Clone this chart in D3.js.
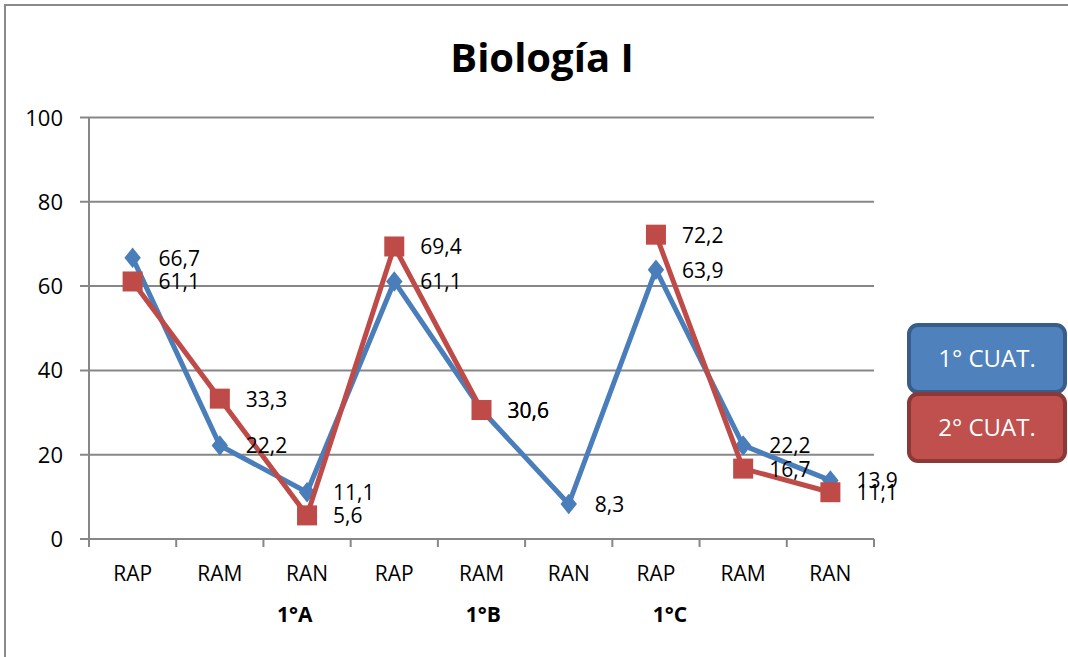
<!DOCTYPE html>
<html>
<head>
<meta charset="utf-8">
<script src="https://cdn.jsdelivr.net/npm/d3@7"></script>
<style>
  html, body { margin: 0; padding: 0; background: #fff; }
  svg { display: block; }
  text { font-family: "Open Sans", sans-serif; }
</style>
</head>
<body>
<svg id="chart" width="1068" height="657"></svg>
<script>
// ---- data ----
const categories = ["RAP", "RAM", "RAN", "RAP", "RAM", "RAN", "RAP", "RAM", "RAN"];
const groups = ["1°A", "1°B", "1°C"];
const groupLabelPos = [2.36, 4.52, 6.66]; // in category units, as drawn in the reference
const seriesNames = ["1° CUAT.", "2° CUAT."];
const cuat1 = [66.7, 22.2, 11.1, 61.1, 30.6, 8.3, 63.9, 22.2, 13.9];
const cuat2 = [61.1, 33.3, 5.6, 69.4, 30.6, null, 72.2, 16.7, 11.1];
const yTicks = [0, 20, 40, 60, 80, 100];
const chartTitle = "Biología I";

(function () {
// ---- layout ----
const svg = d3.select("#chart");
const pLeft = 89, pRight = 874, pTop = 117.5, pBottom = 539;
const x = d3.scaleBand().domain(d3.range(categories.length)).range([pLeft, pRight]).padding(0);
const y = d3.scaleLinear().domain([0, 100]).range([pBottom, pTop]);
const cx = i => x(i) + x.bandwidth() / 2;
const gridColor = "#878787";

// outer frame
svg.append("rect").attr("x", 5).attr("y", 5).attr("width", 1080).attr("height", 700)
  .attr("fill", "none").attr("stroke", "#8a8a8a").attr("stroke-width", 2);

// title
svg.append("text").attr("x", 542).attr("y", 72).attr("text-anchor", "middle")
  .attr("font-size", 40).attr("font-weight", "bold").attr("fill", "#000").text(chartTitle);

// gridlines + y ticks
const gy = svg.append("g");
yTicks.forEach(t => {
  gy.append("line").attr("x1", pLeft - 9).attr("x2", pRight)
    .attr("y1", y(t)).attr("y2", y(t)).attr("stroke", gridColor).attr("stroke-width", 2);
  gy.append("text").attr("x", 63).attr("y", y(t) + 8).attr("text-anchor", "end")
    .attr("font-size", 22).attr("fill", "#000").text(t);
});
// y axis line
svg.append("line").attr("x1", pLeft).attr("x2", pLeft).attr("y1", pTop).attr("y2", pBottom + 8)
  .attr("stroke", gridColor).attr("stroke-width", 2);
// x ticks at boundaries
d3.range(categories.length + 1).forEach(k => {
  const xx = pLeft + k * x.bandwidth();
  svg.append("line").attr("x1", xx).attr("x2", xx).attr("y1", pBottom).attr("y2", pBottom + 8)
    .attr("stroke", gridColor).attr("stroke-width", 2);
});
// x labels
categories.forEach((c, i) => {
  svg.append("text").attr("x", cx(i)).attr("y", 581).attr("text-anchor", "middle")
    .attr("font-size", 21).attr("fill", "#000").text(c);
});
groups.forEach((g, k) => {
  svg.append("text").attr("x", pLeft + groupLabelPos[k] * x.bandwidth()).attr("y", 622)
    .attr("text-anchor", "middle").attr("font-size", 21).attr("font-weight", "bold")
    .attr("fill", "#000").text(g);
});

// series
const line = d3.line().defined(d => d.v != null).x(d => cx(d.i)).y(d => y(d.v));
const s1 = cuat1.map((v, i) => ({ v, i }));
const s2 = cuat2.map((v, i) => ({ v, i }));

const blue = "#4a7ebb", red = "#be4b48";

svg.append("path").datum(s1).attr("d", line).attr("fill", "none")
  .attr("stroke", blue).attr("stroke-width", 5).attr("stroke-linejoin", "round");
svg.append("g").selectAll("path").data(s1.filter(d => d.v != null)).join("path")
  .attr("d", d3.symbol(d3.symbolDiamond, 150)())
  .attr("transform", d => `translate(${cx(d.i)},${y(d.v)}) scale(1.25,0.9)`)
  .attr("fill", blue);

svg.append("path").datum(s2).attr("d", line).attr("fill", "none")
  .attr("stroke", red).attr("stroke-width", 5).attr("stroke-linejoin", "round");
svg.append("g").selectAll("rect").data(s2.filter(d => d.v != null)).join("rect")
  .attr("x", d => cx(d.i) - 10).attr("y", d => y(d.v) - 10)
  .attr("width", 20).attr("height", 20).attr("fill", red);

// data labels
const fmt = v => String(v).replace(".", ",");
const labels = svg.append("g");
[s1, s2].forEach(s => {
  s.filter(d => d.v != null).forEach(d => {
    labels.append("text").attr("x", cx(d.i) + 26).attr("y", y(d.v) + 8)
      .attr("font-size", 21).attr("fill", "#000").text(fmt(d.v));
  });
});

// legend
const legend = svg.append("g");
const legendItems = [
  { name: seriesNames[0], fill: "#4f81bd", stroke: "#385d8a", y0: 325 },
  { name: seriesNames[1], fill: "#c0504d", stroke: "#8c3836", y0: 394 }
];
legendItems.forEach(it => {
  legend.append("rect").attr("x", 909).attr("y", it.y0).attr("width", 156).attr("height", 67)
    .attr("rx", 9).attr("ry", 9).attr("fill", it.fill).attr("stroke", it.stroke).attr("stroke-width", 4);
  legend.append("text").attr("x", 987).attr("y", it.y0 + 42).attr("text-anchor", "middle")
    .attr("font-size", 24).attr("fill", "#fff").text(it.name);
});
})();
</script>
</body>
</html>
